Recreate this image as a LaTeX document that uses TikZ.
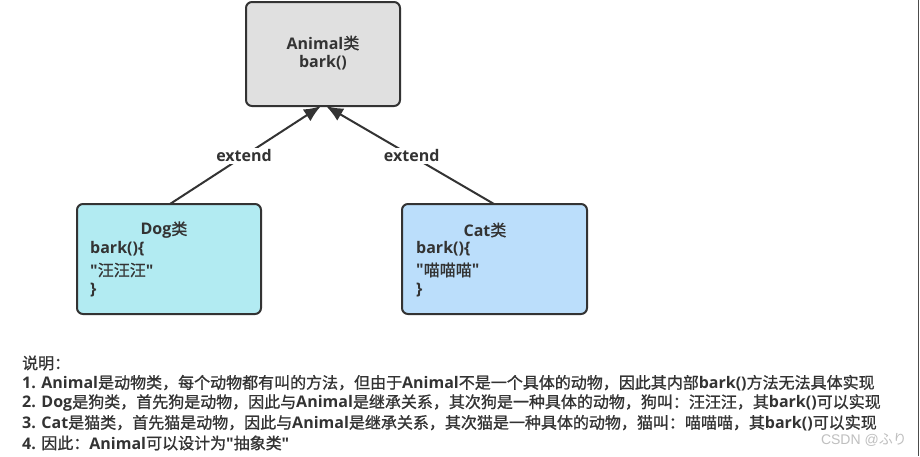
\documentclass[tikz,border=0pt]{standalone}
\usepackage{fontspec}
\setmainfont{Open Sans}[Ligatures=TeXOff]
\newfontfamily\cjk{Noto Sans CJK SC}[FakeBold=1]
\newfontfamily\jpfont{Noto Sans CJK JP}
\newfontfamily\wmfont{Liberation Sans}
\newcommand{\zh}[1]{{\cjk\mdseries #1}}
\usetikzlibrary{arrows.meta}
\definecolor{ink}{HTML}{333333}
\definecolor{animalfill}{HTML}{E0E0E0}
\definecolor{dogfill}{HTML}{B2EBF2}
\definecolor{catfill}{HTML}{BBDEFB}
\tikzset{
  classbox/.style={draw=ink, line width=2pt, rounded corners=6pt},
  txt/.style={inner sep=0pt, text=ink, font=\fontsize{16}{18}\selectfont\bfseries},
  lefttxt/.style={txt, anchor=west},
  note/.style={inner sep=0pt, anchor=west, text=ink, font=\fontsize{16}{18}\selectfont\bfseries},
  extarrow/.style={draw=ink, line width=2pt, -{Latex[length=17pt,width=14pt]}},
  extlabel/.style={fill=white, inner sep=2pt, text=ink, font=\fontsize{16}{18}\selectfont\bfseries},
}
\begin{document}
\begin{tikzpicture}[x=1pt,y=-1pt]
\useasboundingbox[fill=white] (0,0) rectangle (920,456);
% boxes
\draw[classbox, fill=animalfill] (246,2) rectangle (400,106);
\draw[classbox, fill=dogfill] (77,204) rectangle (261,314);
\draw[classbox, fill=catfill] (402,204) rectangle (587,314);
\coordinate (dogN) at (170,204);
\coordinate (catN) at (494,204);
\coordinate (tipL) at (321,106);
\coordinate (tipR) at (326,106);
% animal text
\node[txt] (atitle) at (323,43) {Animal\zh{类}};
\node[txt] (abark) at (323,63) {bark()};
% dog text
\node[txt] (dtitle) at (164,230) {Dog\zh{类}};
\node[lefttxt] (d1) at (90,249) {bark()\{};
\node[lefttxt] (d2) at (90,270) {"\zh{汪汪汪}"};
\node[lefttxt] (d3) at (90,290) {\}};
% cat text
\node[txt] (ctitle) at (485,230) {Cat\zh{类}};
\node[lefttxt] (c1) at (416,249) {bark()\{};
\node[lefttxt] (c2) at (416,270) {"\zh{喵喵喵}"};
\node[lefttxt] (c3) at (416,290) {\}};
% arrows
\draw[extarrow] (dogN) -- node[extlabel, pos=0.49] (e1) {extend} (tipL);
\draw[extarrow] (catN) -- node[extlabel, pos=0.49] (e2) {extend} (tipR);
% notes
\node[note] (n0) at (22,363) {\zh{说明：}};
\node[note] (n1) at (22,383) {1. Animal\zh{是动物类，每个动物都有叫的方法，但由于}Animal\zh{不是一个具体的动物，因此其内部}bark()\zh{方法无法具体实现}};
\node[note] (n2) at (22,403) {2. Dog\zh{是狗类，首先狗是动物，因此与}Animal\zh{是继承关系，其次狗是一种具体的动物，狗叫：汪汪汪，其}bark()\zh{可以实现}};
\node[note] (n3) at (22,423) {3. Cat\zh{是猫类，首先猫是动物，因此与}Animal\zh{是继承关系，其次猫是一种具体的动物，猫叫：喵喵喵，其}bark()\zh{可以实现}};
\node[note] (n4) at (22,443) {4. \zh{因此：}Animal\zh{可以设计为}"\zh{抽象类}"};
% watermark
\node[inner sep=0pt, anchor=east, text=black!25, font=\fontsize{14}{16}\selectfont] (wm) at (907,440) {\wmfont CSDN @\jpfont ふり};
% right edge line
\draw[black!70, line width=1pt] (918.5,0) -- (918.5,456);
\end{tikzpicture}
\end{document}
